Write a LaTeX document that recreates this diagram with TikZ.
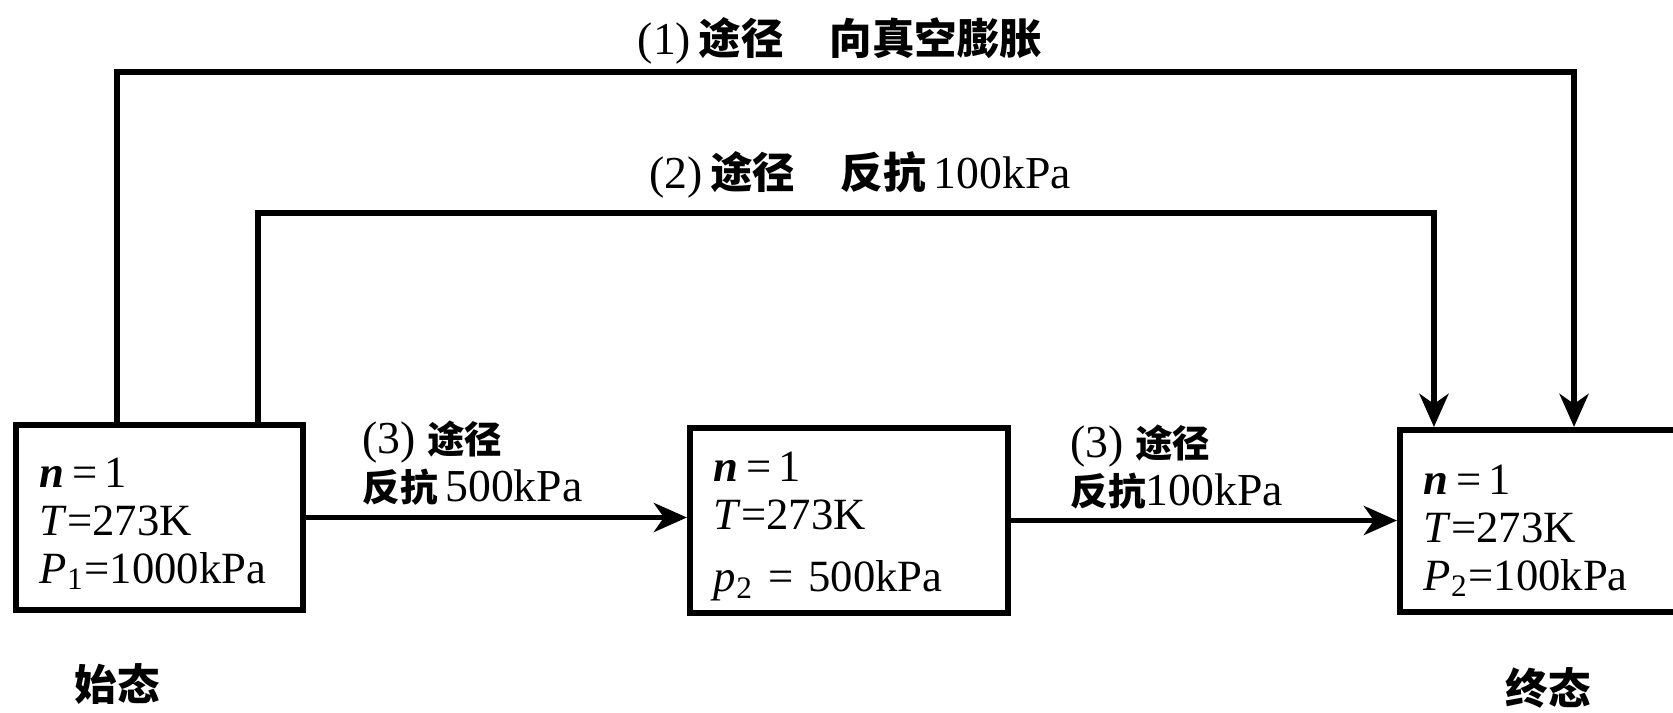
\documentclass[tikz,border=0pt]{standalone}
\usepackage{fontspec}
\setmainfont{Liberation Serif}
\newfontfamily\cjk[Scale=0.93]{Noto Sans CJK SC}
\newfontfamily\cjks[Scale=0.82]{Noto Sans CJK SC}
\usetikzlibrary{arrows.meta}
\begin{document}
\begin{tikzpicture}[x=0.01cm,y=-0.01cm,
  every node/.style={font=\fontsize{13}{13.5}\selectfont},
  box/.style={draw, line width=1.7pt, inner xsep=0.24cm, inner ysep=0pt, align=left,
     minimum height=1.85cm, font=\fontsize{12.7}{13.6}\selectfont},
  arr/.style={line width=1.7pt, -{Stealth[length=3.3mm,width=2.9mm,inset=1mm]}},
  lbl/.style={inner sep=0pt},
]
\useasboundingbox (0,0) rectangle (1673,712);
% boxes
\node[box, text width=2.39cm] (b1) at (159.5,517.5)
  {\rule{0pt}{12pt}\textbf{\textit{n}}\,=\,1\\ \textit{T}=273K\\ \textit{P}\textsubscript{1}=1000kPa};
\node[box, text width=2.70cm] (b2) at (849,520.5)
  {\rule{0pt}{12pt}\textbf{\textit{n}}\,=\,1\\ \textit{T}=273K\\[4pt] \textit{p}\textsubscript{2} = 500kPa};
\node[box, text width=2.32cm, minimum height=1.82cm] (b3) at (1540,521)
  {\rule{0pt}{14pt}\textbf{\textit{n}}\,=\,1\\ \textit{T}=273K\\ \textit{P}\textsubscript{2}=100kPa};
% top routes
\coordinate (top1) at (840,72);
\coordinate (top2) at (860,213);
\draw[arr] ([xshift=1.04cm]b1.north west) |- (top1) -| ([xshift=1.77cm]b3.north west);
\draw[arr] ([xshift=2.45cm]b1.north west) |- (top2) -| ([xshift=0.37cm]b3.north west);
\node[lbl] (l1) at (840,41) {(1)\,{\cjk\bfseries 途径}\quad{\cjk\bfseries 向真空膨胀}};
\node[lbl] (l2) at (860,175) {(2)\,{\cjk\bfseries 途径}\quad{\cjk\bfseries 反抗}\,100kPa};
% horizontal routes
\draw[arr] (b1.east) -- (b1.east -| b2.west);
\draw[arr] (b2.east) -- (b2.east -| b3.west);
\node[lbl, anchor=west, align=left] (l3) at (362,463)
  {(3) {\cjks\bfseries 途径}\\ {\cjks\bfseries 反抗}\,500kPa};
\node[lbl, anchor=west, align=left] (l4) at (1070,467)
  {(3) {\cjks\bfseries 途径}\\ {\cjks\bfseries 反抗}100kPa};
% state labels
\node[lbl] (s1) at (117,684) {\cjk\bfseries 始态};
\node[lbl] (s2) at (1548,688) {\cjk\bfseries 终态};
\end{tikzpicture}
\end{document}
